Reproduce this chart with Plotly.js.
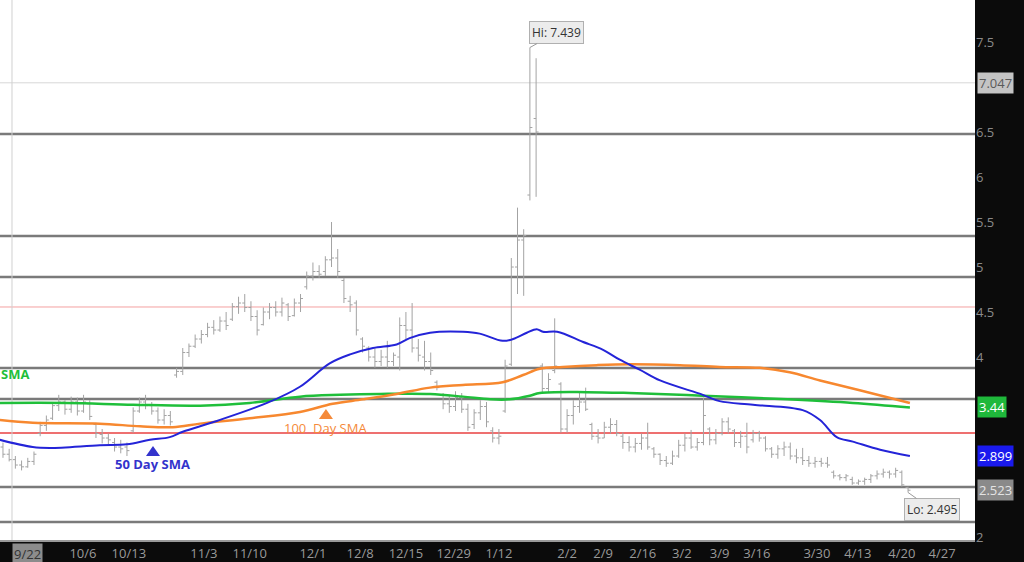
<!DOCTYPE html>
<html>
<head>
<meta charset="utf-8">
<script src="https://cdn.plot.ly/plotly-3.0.1.min.js"></script>
<style>
html,body{margin:0;padding:0;background:#0b0b0b;}
#chart{width:1024px;height:562px;}
</style>
</head>
<body>
<div id="chart"></div>
<script>
// ---- OHLC data (one bar per trading session, left to right) ----
const opens  = [3.0,2.92,2.86,2.8,2.78,2.84,3.15,3.24,3.32,3.46,3.5,3.42,3.5,3.4,3.48,3.25,3.14,3.1,3.05,3.0,3.0,3.18,3.4,3.5,3.46,3.4,3.3,3.35,
  3.8,3.84,4.05,4.12,4.2,4.25,4.33,4.3,4.4,4.42,4.56,4.6,4.55,4.45,4.36,4.5,4.55,4.5,4.58,4.46,4.6,4.78,4.9,4.95,4.95,5.08,5.1,4.85,4.62,4.6,
  4.2,4.1,4.0,3.95,4.0,3.95,4.0,4.35,4.3,4.1,4.0,3.95,3.72,3.58,3.48,3.45,3.55,3.42,3.25,3.38,3.45,3.18,3.1,3.4,3.92,5.0,5.3,5.8,6.65,
  3.9,3.65,3.85,3.7,3.2,3.35,3.45,3.5,3.25,3.12,3.1,3.22,3.25,3.12,3.05,3.0,3.04,3.1,2.98,2.92,2.85,2.82,2.9,3.02,3.1,3.0,3.05,3.2,3.08,
  3.15,3.28,3.18,3.05,3.12,3.08,3.15,3.1,2.98,2.92,2.98,3.0,2.9,2.88,2.85,2.82,2.84,2.82,2.72,2.68,2.66,2.64,2.6,2.62,2.64,2.68,2.7,2.72,2.7,2.72,2.55];
const highs  = [3.05,2.98,2.9,2.85,2.88,2.95,3.28,3.35,3.5,3.58,3.52,3.56,3.55,3.58,3.52,3.27,3.2,3.15,3.1,3.08,3.05,3.44,3.55,3.58,3.5,3.44,3.42,3.4,
  3.88,4.1,4.15,4.25,4.3,4.38,4.41,4.45,4.5,4.6,4.67,4.7,4.62,4.52,4.55,4.6,4.62,4.66,4.6,4.65,4.7,4.95,5.05,5.02,5.12,5.5,5.2,4.88,4.68,4.63,
  4.22,4.12,4.1,4.08,4.18,4.05,4.44,4.5,4.6,4.2,4.18,4.05,3.74,3.6,3.58,3.62,3.6,3.48,3.42,3.52,3.5,3.22,3.2,3.97,5.1,5.66,5.42,7.439,7.32,
  3.93,3.82,4.43,3.72,3.42,3.52,3.6,3.66,3.27,3.2,3.28,3.32,3.3,3.16,3.12,3.1,3.15,3.27,3.0,2.93,2.9,2.96,3.08,3.15,3.19,3.1,3.55,3.22,3.2,
  3.32,3.33,3.2,3.18,3.27,3.19,3.18,3.12,3.0,3.02,3.06,3.05,2.98,2.99,2.9,2.89,2.88,2.89,2.74,2.7,2.7,2.67,2.64,2.66,2.7,2.74,2.76,2.74,2.77,2.74,2.56];
const lows   = [2.88,2.84,2.76,2.74,2.77,2.8,3.12,3.18,3.3,3.4,3.36,3.38,3.35,3.38,3.3,3.1,3.04,3.02,2.95,2.93,2.9,3.16,3.38,3.42,3.36,3.26,3.25,3.24,
  3.77,3.8,4.0,4.1,4.15,4.22,4.25,4.28,4.3,4.4,4.48,4.5,4.4,4.24,4.35,4.42,4.45,4.45,4.4,4.45,4.5,4.75,4.85,4.88,4.9,5.0,4.88,4.6,4.5,4.24,
  4.05,3.95,3.88,3.9,3.88,3.9,3.85,4.2,4.05,3.95,3.85,3.8,3.63,3.42,3.38,3.4,3.38,3.18,3.2,3.3,3.22,3.05,3.03,3.38,3.9,4.7,4.68,5.74,5.78,
  3.6,3.6,3.82,3.16,3.16,3.25,3.38,3.4,3.08,3.04,3.1,3.15,3.12,2.98,2.95,2.94,2.97,2.97,2.88,2.8,2.78,2.8,2.88,2.95,2.98,2.96,3.02,3.02,3.03,
  3.13,3.15,3.0,2.99,2.93,3.05,3.06,2.95,2.88,2.87,2.9,2.86,2.82,2.8,2.78,2.77,2.78,2.77,2.65,2.63,2.62,2.58,2.58,2.58,2.6,2.64,2.66,2.65,2.66,2.56,2.495];
const closes = [2.92,2.86,2.8,2.78,2.84,2.92,3.24,3.3,3.46,3.5,3.42,3.5,3.4,3.5,3.34,3.15,3.1,3.08,3.0,2.98,2.96,3.4,3.5,3.46,3.4,3.3,3.35,3.28,
  3.84,4.05,4.12,4.2,4.25,4.33,4.3,4.4,4.35,4.56,4.6,4.55,4.45,4.3,4.5,4.55,4.5,4.6,4.45,4.6,4.65,4.9,4.95,4.92,5.08,5.1,4.95,4.65,4.58,4.3,
  4.12,4.0,3.95,4.0,3.95,4.02,4.35,4.3,4.1,4.02,3.95,3.85,3.66,3.48,3.45,3.55,3.42,3.22,3.38,3.45,3.28,3.1,3.12,3.9,5.0,5.3,5.35,6.55,6.5,
  3.65,3.75,3.9,3.2,3.35,3.45,3.5,3.42,3.12,3.1,3.22,3.25,3.15,3.05,3.0,3.04,3.1,3.0,2.92,2.85,2.82,2.9,3.02,3.1,3.0,3.05,3.35,3.08,3.15,
  3.28,3.2,3.05,3.12,3.0,3.15,3.1,2.98,2.92,2.98,3.0,2.9,2.88,2.85,2.82,2.84,2.82,2.8,2.68,2.66,2.68,2.6,2.62,2.64,2.68,2.7,2.72,2.7,2.74,2.58,2.52];

// ---- moving averages, read at sample bars ----
const sma50Bar  = [-0.5,4.8,7.6,15.6,20,23.7,26.9,29,34.5,42.6,47.9,52.7,56,59.7,63.5,65.6,68.9,74.2,76.9,80.6,82.3,84.5,86.1,87.1,89.4,93.5,96.8,99.5,102.7,106,112.9,115.6,121,129,131.8,134.5,137.1,141.5,146.3];
const sma50Val  = [3.08,3.0,2.99,3.02,3.03,3.08,3.11,3.17,3.29,3.49,3.67,3.93,4.03,4.1,4.14,4.21,4.27,4.28,4.26,4.18,4.2,4.27,4.31,4.28,4.28,4.17,4.08,3.97,3.86,3.74,3.58,3.51,3.47,3.41,3.3,3.11,3.06,2.97,2.9];
const sma100Bar = [-0.5,4.8,15.6,22.1,27.4,31.8,39.8,47.9,53.2,58.1,63.5,68.9,74.2,80.6,83.9,86.6,90.3,95.8,101.1,109.2,115.6,122.1,126.9,131.8,138.2,146.3];
const sma100Val = [3.3,3.27,3.26,3.23,3.22,3.26,3.32,3.39,3.48,3.53,3.59,3.66,3.69,3.72,3.8,3.87,3.89,3.91,3.92,3.91,3.89,3.88,3.83,3.74,3.63,3.49];
const sma200Bar = [-0.5,10.3,21,31.8,39.8,47.9,54.4,60.8,68.9,74.2,78.6,81.8,85,86.6,94.2,101.1,112.9,126.5,137.1,146.3];
const sma200Val = [3.49,3.49,3.47,3.46,3.49,3.56,3.58,3.59,3.59,3.56,3.53,3.53,3.57,3.6,3.61,3.6,3.57,3.53,3.49,3.44];

// ---- axis ticks ----
const tickBars   = [12.9,20.3,32.4,39.8,50,57.6,65,72.7,80,91,96.8,103.2,109.5,115.6,121.6,131.3,137.9,145,151.5];
const tickLabels = ['10/6','10/13','11/3','11/10','12/1','12/8','12/15','12/29','1/12','2/2','2/9','2/16','3/2','3/9','3/16','3/30','4/13','4/20','4/27'];
const yTicks      = [2,2.5,3,3.5,4,4.5,5,5.5,6,6.5,7,7.5,8];
const yTickLabels = ['2','','','','4','4.5','5','5.5','6','6.5','','7.5','8'];  // 2.5, 3, 3.5, 7 sit under the price tags

// ---- reference levels ----
const grayLevels = [6.478,5.344,4.889,3.878,3.533,2.556,2.167];
const redLevels  = [3.156];
const pinkLevels = [4.556];
const lastLine   = 7.047;

// ---- price tags ----
const tagValues = [7.047, 3.44, 2.899, 2.523];
const tagTexts  = ['7.047','3.44','2.899','2.523'];
const hiValue = 7.439, hiBar = 85;
const loValue = 2.495, loBar = 146;

const FONT = 'Open Sans, Noto Sans, sans-serif';
const barIdx = opens.map((_, i) => i);

const traces = [
  {type:'scatter', mode:'lines', x:sma200Bar, y:sma200Val, line:{color:'#1fbf3a', width:2.5, shape:'spline'}, hoverinfo:'skip'},
  {type:'scatter', mode:'lines', x:sma100Bar, y:sma100Val, line:{color:'#f7882f', width:2.5, shape:'spline'}, hoverinfo:'skip'},
  {type:'scatter', mode:'lines', x:sma50Bar, y:sma50Val, line:{color:'#2424d8', width:2, shape:'spline'}, hoverinfo:'skip'},
  {type:'ohlc', x:barIdx, open:opens, high:highs, low:lows, close:closes, tickwidth:0.4,
   increasing:{line:{color:'#a3a3a3', width:1}}, decreasing:{line:{color:'#a3a3a3', width:1}}, hoverinfo:'skip'}
];

const shapes = [];
shapes.push({type:'line', xref:'paper', yref:'y', x0:0, x1:1, y0:lastLine, y1:lastLine, line:{color:'#d8d8d8', width:1}, layer:'below'});
pinkLevels.forEach(v => shapes.push({type:'line', xref:'paper', yref:'y', x0:0, x1:1, y0:v, y1:v, line:{color:'#f4a0a0', width:1}, layer:'below'}));
redLevels.forEach(v => shapes.push({type:'line', xref:'paper', yref:'y', x0:0, x1:1, y0:v, y1:v, line:{color:'#e84040', width:1.5}, layer:'below'}));
grayLevels.forEach(v => shapes.push({type:'line', xref:'paper', yref:'y', x0:0, x1:1, y0:v, y1:v, line:{color:'#7a7a7a', width:2.5}, layer:'below'}));
shapes.push({type:'line', xref:'paper', yref:'paper', x0:0.0123, x1:0.0123, y0:0, y1:1, line:{color:'#d0d0d0', width:1}, layer:'below'});
// pointer triangles under the SMA captions
[{x:24.2, y:2.956, c:'#3333cc'}, {x:52.1, y:3.367, c:'#f58a3a'}].forEach(t => shapes.push({
  type:'path', xref:'x', yref:'y', xsizemode:'pixel', ysizemode:'pixel', xanchor:t.x, yanchor:t.y,
  path:'M-7,-5 L7,-5 L0,5 Z', fillcolor:t.c, line:{width:0}, layer:'above'
}));

const tagStyles = [
  {bg:'#c4c4c4', fg:'#5a5a5a'},
  {bg:'#1fb83b', fg:'#ffffff'},
  {bg:'#1a1aee', fg:'#ffffff'},
  {bg:'#8a8a8a', fg:'#e4e4e4'}
];
const annotations = tagValues.map((v, i) => ({
  xref:'paper', yref:'y', x:1, y:v, xanchor:'left', yanchor:'middle', xshift:2,
  text:tagTexts[i], showarrow:false, bgcolor:tagStyles[i].bg, borderpad:1,
  font:{family:FONT, size:13, color:tagStyles[i].fg}
}));

annotations.push(
  {x:hiBar, y:hiValue, xref:'x', yref:'y', text:'Hi: 7.439', showarrow:true, arrowhead:0, arrowwidth:1, arrowcolor:'#9a9a9a',
   ax:27, ay:-15, bgcolor:'#ececec', bordercolor:'#b0b0b0', borderwidth:1, borderpad:2,
   font:{family:FONT, size:12, color:'#333'}},
  {x:loBar, y:loValue, xref:'x', yref:'y', text:'Lo: 2.495', showarrow:true, arrowhead:0, arrowwidth:1, arrowcolor:'#9a9a9a',
   ax:24, ay:17, bgcolor:'#ececec', bordercolor:'#b0b0b0', borderwidth:1, borderpad:2,
   font:{family:FONT, size:12, color:'#333'}},
  {x:24.2, y:2.81, xref:'x', yref:'y', text:'<b>50 Day SMA</b>', showarrow:false, font:{family:FONT, size:13, color:'#3333cc'}},
  {x:52.1, y:3.21, xref:'x', yref:'y', text:'100  Day SMA', showarrow:false, font:{family:FONT, size:13, color:'#f58a3a'}},
  {x:0, y:3.81, xref:'paper', yref:'y', xanchor:'left', xshift:-1, text:'<b>SMA</b>', showarrow:false, font:{family:FONT, size:13, color:'#1fbf3a'}},
  {x:4.0, y:0, xref:'x', yref:'paper', yanchor:'top', yshift:-3, text:'9/22', showarrow:false, bgcolor:'#8c8c8c',
   font:{family:FONT, size:13, color:'#333'}}
);

const layout = {
  width:1024, height:562,
  margin:{l:0, r:49, t:0, b:22, pad:0},
  paper_bgcolor:'#0b0b0b', plot_bgcolor:'#ffffff',
  showlegend:false,
  font:{family:FONT, color:'#9a9a9a', size:13},
  xaxis:{range:[-0.48, 156.8], tickvals:tickBars, ticktext:tickLabels, showgrid:false, zeroline:false,
         showline:true, linecolor:'#9a9a9a', linewidth:2, ticks:'', rangeslider:{visible:false},
         tickfont:{family:FONT, size:13, color:'#9a9a9a'}, fixedrange:true},
  yaxis:{range:[1.967, 7.967], side:'right', tickvals:yTicks, ticktext:yTickLabels, showgrid:false, zeroline:false,
         showline:false, ticks:'', tickfont:{family:FONT, size:13, color:'#8a8a8a'}, fixedrange:true},
  shapes:shapes,
  annotations:annotations
};

Plotly.newPlot('chart', traces, layout, {staticPlot:true, displayModeBar:false});
</script>
</body>
</html>
